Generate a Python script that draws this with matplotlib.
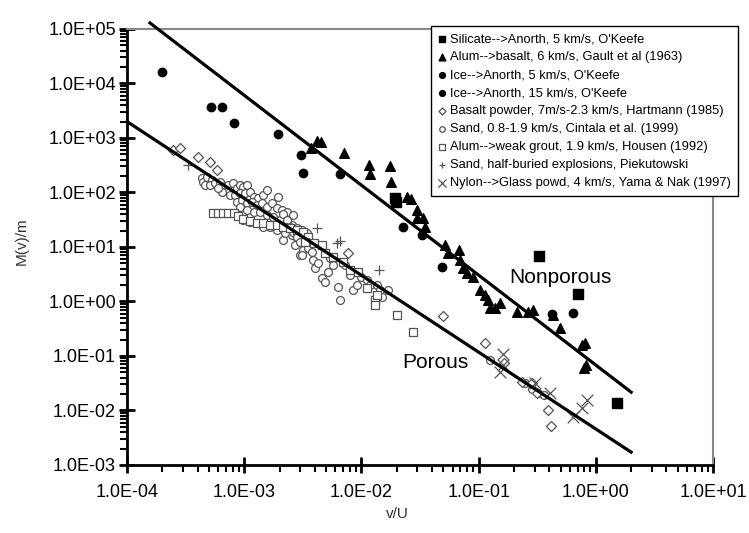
import matplotlib
matplotlib.use("Agg")
import matplotlib.pyplot as plt
from matplotlib.ticker import FuncFormatter, LogLocator

plt.rcParams["font.family"] = ["Liberation Sans", "DejaVu Sans"]

# --- measured fragment data, M(>v)/m against v/U ---
silicate_x = [0.0194, 0.0197, 0.33, 0.71, 1.51]
silicate_y = [80, 68, 6.8, 1.37, 0.0139]

alum_basalt_x = [3.69e-3, 4.16e-3, 4.52e-3, 7.11e-3, 0.01167, 0.0118, 0.01754, 0.0178,
                 0.0243, 0.0263, 0.030, 0.0296, 0.0333, 0.0349, 0.0516, 0.0552, 0.0686,
                 0.0694, 0.074, 0.079, 0.0901, 0.1028, 0.1135, 0.121, 0.125, 0.138, 0.152,
                 0.211, 0.266, 0.293, 0.435, 0.496, 0.76, 0.81, 0.798, 0.82]
alum_basalt_y = [663, 892, 855, 537, 320, 218, 310, 158,
                 84, 75, 47.7, 33.6, 33.6, 23.6, 10.9, 7.65, 8.8,
                 5.77, 4.06, 3.29, 2.85, 1.63, 1.31, 1.07, 0.75, 0.75, 0.93,
                 0.65, 0.65, 0.70, 0.565, 0.32, 0.16, 0.171, 0.059, 0.0686]

ice5_x = [1.98e-4, 5.2e-4, 6.4e-4, 8.1e-4, 1.95e-3, 3.06e-3, 3.19e-3, 6.5e-3]
ice5_y = [1.64e4, 3750, 3660, 1860, 1180, 488, 225, 218]

ice15_x = [0.0226, 0.0327, 0.0484, 0.426, 0.643]
ice15_y = [23.6, 16.6, 4.36, 0.59, 0.607]

basalt_powder_x = [2.48e-4, 2.83e-4, 4.06e-4, 5.1e-4, 5.9e-4, 7.7e-3, 0.05, 0.1135,
                   0.165, 0.233, 0.284, 0.313, 0.394, 0.415]
basalt_powder_y = [603, 647, 454, 367, 259, 7.65, 0.54, 0.171,
                   0.0755, 0.0338, 0.0316, 0.0207, 0.0102, 0.0052]

sand_x = [4.33e-4, 4.48e-4, 4.79e-4, 5.28e-4, 4.63e-4, 5.11e-4, 5.63e-4, 6.22e-4, 6.64e-4,
          7.08e-4, 6.43e-4, 6.01e-4, 7.32e-4, 8.07e-4, 8.62e-4, 9.2e-4, 9.84e-4, 1.05e-3,
          7.57e-4, 8.35e-4, 9.2e-4, 1.02e-3, 1.12e-3, 1.2e-3, 1.32e-3, 1.46e-3, 1.56e-3,
          1.95e-3, 8.62e-4, 9.5e-4, 1.05e-3, 1.16e-3, 1.28e-3, 1.41e-3, 1.56e-3, 1.71e-3,
          1.89e-3, 2.09e-3, 2.3e-3, 2.62e-3, 9.2e-4, 1.05e-3, 1.2e-3, 1.36e-3, 1.56e-3,
          1.77e-3, 2.02e-3, 2.3e-3, 2.54e-3, 2.8e-3, 3.09e-3, 3.41e-3, 2.3e-3, 2.54e-3,
          2.8e-3, 2.99e-3, 3.3e-3, 2.99e-3, 3.41e-3, 2.16e-3, 1.89e-3, 1.66e-3, 1.46e-3,
          1.28e-3, 1.12e-3, 9.84e-4,
          2.15e-3, 2.3e-3, 2.45e-3, 2.23e-3, 2.62e-3, 2.8e-3, 2.71e-3, 2.99e-3, 3.19e-3,
          3.09e-3, 3.52e-3, 3.76e-3, 3.88e-3, 4.02e-3, 4.57e-3, 4.89e-3, 5.21e-3, 4.28e-3,
          6.35e-3, 6.56e-3, 8.53e-3, 9.1e-3, 0.0100, 0.0111, 0.0118, 0.0135, 0.0144,
          0.0149, 0.0169, 7.98e-3, 7.24e-3, 5.75e-3, 5.39e-3,
          0.125, 0.249, 0.284, 0.324, 0.36]
sand_y = [182, 158, 195, 169, 137, 137, 147, 158, 128,
          111, 104, 119, 137, 147, 119, 137, 128, 137,
          90, 90, 96, 96, 104, 84, 78, 90, 111,
          84, 68, 73, 63, 68, 59, 63, 55, 63,
          51, 48, 44, 39, 55, 48, 44, 44, 39,
          36, 31, 29, 25, 22, 20.5, 17.8, 19.1, 16.6,
          14.4, 12.5, 10.9, 7.1, 9.4, 13.4, 20.5, 23.6, 23.6,
          27.2, 29, 31,
          41, 31, 23.6, 17.8, 19.1, 15.5, 10.9, 12.5, 8.8,
          7.1, 9.4, 8.2, 5.77, 4.06, 2.66, 2.31, 3.52, 5.0,
          1.82, 1.06, 1.63, 2.0, 2.85, 2.48, 2.0, 2.0, 1.63,
          1.22, 1.63, 3.06, 4.67, 4.67, 6.2,
          0.0846, 0.0316, 0.025, 0.0207, 0.019]

grout_x = [5.45e-4, 6.0e-4, 6.6e-4, 7.3e-4, 8.1e-4, 8.9e-4, 9.8e-4, 1.12e-3, 1.28e-3,
           1.46e-3, 1.66e-3, 1.89e-3, 2.16e-3, 2.46e-3, 2.8e-3, 3.19e-3, 3.52e-3, 3.3e-3,
           3.9e-3, 4.6e-3, 4.9e-3, 5.75e-3, 7.0e-3, 8.0e-3, 9.4e-3, 0.0111, 0.0131,
           0.0135, 0.0131, 0.02, 0.0277]
grout_y = [42.6, 42.6, 42.6, 42.6, 42.6, 37, 32, 29.6, 27.5,
           27.5, 25.7, 25.4, 23.6, 22, 20.5, 19.1, 15.5, 12.5,
           11.7, 10.9, 7.65, 6.6, 5.37, 3.78, 3.52, 1.75, 1.07,
           1.32, 0.86, 0.565, 0.28]

explosion_x = [3.3e-4, 4.16e-3, 6.15e-3, 6.5e-3, 0.0142]
explosion_y = [320, 22, 11.7, 13.1, 3.78]

nylon_x = [0.16, 0.152, 0.162, 0.303, 0.406, 0.835, 0.76, 0.643]
nylon_y = [0.107, 0.0515, 0.0686, 0.0316, 0.0207, 0.0156, 0.011, 0.0077]

# power-law fits, end points
nonporous_fit_x = [1.57e-4, 2.0]
nonporous_fit_y = [1.29e5, 0.0217]
porous_fit_x = [1.0e-4, 2.0]
porous_fit_y = [2.0e3, 1.72e-3]

fig = plt.figure(figsize=(7.49, 5.33), dpi=100)
ax = fig.add_axes([0.1696, 0.1276, 0.7824, 0.8180])

gray = "#555555"
ax.scatter(sand_x, sand_y, s=32, marker="o", facecolors="white", edgecolors=gray,
           linewidths=0.9, zorder=3, label="Sand, 0.8-1.9 km/s, Cintala et al. (1999)")
ax.scatter(grout_x, grout_y, s=30, marker="s", facecolors="white", edgecolors=gray,
           linewidths=0.9, zorder=3, label="Alum-->weak grout, 1.9 km/s, Housen (1992)")
ax.scatter(basalt_powder_x, basalt_powder_y, s=26, marker="D", facecolors="white",
           edgecolors=gray, linewidths=0.9, zorder=3,
           label="Basalt powder, 7m/s-2.3 km/s, Hartmann (1985)")
ax.scatter(explosion_x, explosion_y, s=45, marker="+", color=gray, linewidths=0.9,
           zorder=3, label="Sand, half-buried explosions, Piekutowski")
ax.scatter(nylon_x, nylon_y, s=70, marker="x", color=gray, linewidths=0.9, zorder=3,
           label="Nylon-->Glass powd, 4 km/s, Yama & Nak (1997)")
ax.scatter(silicate_x, silicate_y, s=44, marker="s", color="black", zorder=4,
           label="Silicate-->Anorth, 5 km/s, O'Keefe")
ax.scatter(alum_basalt_x, alum_basalt_y, s=48, marker="^", color="black", zorder=4,
           label="Alum-->basalt, 6 km/s, Gault et al (1963)")
ax.scatter(ice5_x, ice5_y, s=36, marker="o", color="black", zorder=4,
           label="Ice-->Anorth, 5 km/s, O'Keefe")
ax.scatter(ice15_x, ice15_y, s=36, marker="o", color="black", zorder=4,
           label="Ice-->Anorth, 15 km/s, O'Keefe")

ax.plot(nonporous_fit_x, nonporous_fit_y, color="black", lw=2.3, zorder=5, clip_on=False)
ax.plot(porous_fit_x, porous_fit_y, color="black", lw=2.3, zorder=5, clip_on=False)

ax.text(0.496, 2.7, "Nonporous", fontsize=15, ha="center", va="center")
ax.text(0.043, 0.0753, "Porous", fontsize=15, ha="center", va="center")

ax.set_xscale("log")
ax.set_yscale("log")
ax.set_xlim(1e-4, 1e1)
ax.set_ylim(1e-3, 1e5)

fmt = FuncFormatter(lambda v, p: f"{v:.1E}")
ax.xaxis.set_major_formatter(fmt)
ax.yaxis.set_major_formatter(fmt)
ax.xaxis.set_major_locator(LogLocator(base=10, numticks=20))
ax.yaxis.set_major_locator(LogLocator(base=10, numticks=20))
ax.xaxis.set_minor_locator(LogLocator(base=10, subs=range(2, 10), numticks=20))
ax.yaxis.set_minor_locator(LogLocator(base=10, subs=range(2, 10), numticks=20))
ax.tick_params(which="major", direction="inout", length=12, width=2, labelsize=13, pad=2)
ax.tick_params(which="minor", direction="out", length=5, width=1.5)
ax.tick_params(axis="x", which="major", pad=8)
ax.yaxis.set_minor_formatter(FuncFormatter(lambda v, p: ""))
ax.xaxis.set_minor_formatter(FuncFormatter(lambda v, p: ""))

for side in ["left", "bottom"]:
    ax.spines[side].set_linewidth(2)
    ax.spines[side].set_color("black")
for side in ["top", "right"]:
    ax.spines[side].set_linewidth(1.5)
    ax.spines[side].set_color("#888888")

fig.text(22 / 749, 1 - 241 / 533, "M(v)/m", rotation=90, fontsize=11, color="#333333",
         ha="center", va="center")
fig.text(397 / 749, 1 - 514 / 533, "v/U", fontsize=11, color="#333333",
         ha="center", va="center")

order = ["Silicate-->Anorth, 5 km/s, O'Keefe",
         "Alum-->basalt, 6 km/s, Gault et al (1963)",
         "Ice-->Anorth, 5 km/s, O'Keefe",
         "Ice-->Anorth, 15 km/s, O'Keefe",
         "Basalt powder, 7m/s-2.3 km/s, Hartmann (1985)",
         "Sand, 0.8-1.9 km/s, Cintala et al. (1999)",
         "Alum-->weak grout, 1.9 km/s, Housen (1992)",
         "Sand, half-buried explosions, Piekutowski",
         "Nylon-->Glass powd, 4 km/s, Yama & Nak (1997)"]
handles, labels = ax.get_legend_handles_labels()
lookup = dict(zip(labels, handles))
leg = fig.legend([lookup[k] for k in order], order, loc="upper right",
                 bbox_to_anchor=(738 / 749, 1 - 26 / 533), borderaxespad=0, fontsize=9.3,
                 frameon=True, fancybox=False, edgecolor="black", framealpha=1,
                 handlelength=0.6, handletextpad=0.35, labelspacing=0.46,
                 borderpad=0.55, markerscale=0.7, scatterpoints=1)
leg.get_frame().set_linewidth(1.0)
leg.set_zorder(10)

fig.savefig("out.png", dpi=100, facecolor="white")
